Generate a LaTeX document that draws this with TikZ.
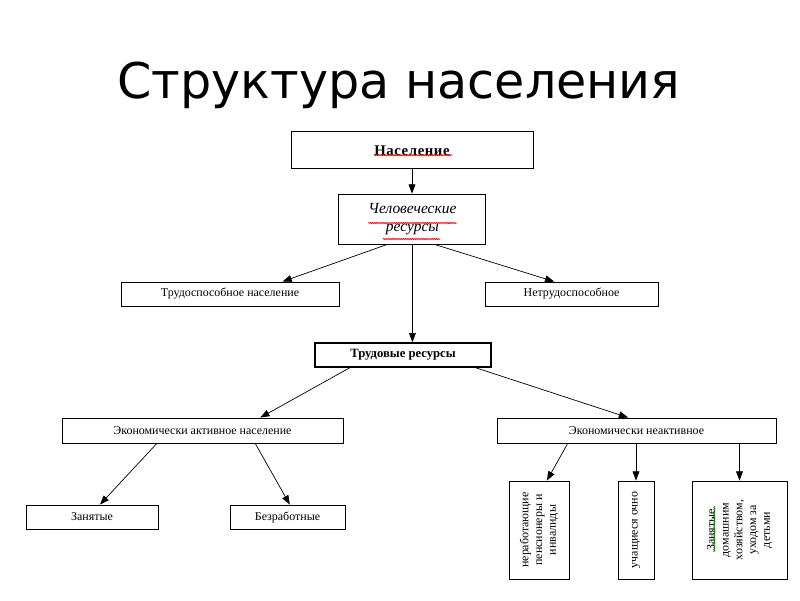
\documentclass[tikz,border=0pt]{standalone}
\usepackage{fontspec}
\setmainfont{Liberation Serif}
\newfontfamily\titlefont{DejaVu Sans}
\usetikzlibrary{arrows.meta,positioning,calc,decorations.pathmorphing}

\begin{document}
\begin{tikzpicture}[
    catbox/.style={rectangle, draw, line width=0.6pt, inner sep=0pt, align=center,
                   font=\fontsize{8.5}{10}\selectfont},
    vertbox/.style={catbox, minimum height=2.45cm, font=\fontsize{8.5}{9.8}\selectfont},
    flow/.style={-{Triangle[length=2.3mm,width=1.7mm]}, line width=0.5pt},
    spell/.style={draw=red, line width=0.4pt, decorate, decoration={snake, amplitude=0.5pt, segment length=1.3pt}}
]
    \useasboundingbox (0,0) rectangle (20,15);

    % Title
    \node[anchor=base, font=\titlefont\fontsize{35}{40}\selectfont] (title) at (9.975, 12.53) {Структура населения};

    % Population and human resources
    \node[catbox, minimum width=6.05cm, minimum height=0.925cm, font=\bfseries\fontsize{10.5}{12}\selectfont\addfontfeature{LetterSpace=4}] (pop) at (10.3, 11.24) {Население};
    \node[catbox, minimum width=3.675cm, minimum height=1.25cm, font=\itshape\fontsize{11}{13}\selectfont] (hum) at (10.31, 9.525) {Человеческие\\ресурсы};

    % Able / unable
    \node[catbox, minimum width=5.45cm, minimum height=0.6cm] (able) at (5.75, 7.65) {Трудоспособное население};
    \node[catbox, minimum width=4.325cm, minimum height=0.6cm] (unable) at (14.29, 7.65) {Нетрудоспособное};

    % Labour resources
    \node[catbox, line width=1.1pt, minimum width=4.4cm, minimum height=0.6cm, font=\bfseries\fontsize{9}{11}\selectfont] (lab) at (10.075, 6.125) {Трудовые ресурсы};

    % Active / inactive
    \node[catbox, minimum width=7.025cm, minimum height=0.625cm] (act) at (5.0625, 4.2375) {Экономически активное население};
    \node[catbox, minimum width=6.975cm, minimum height=0.625cm] (inact) at (15.9125, 4.2375) {Экономически неактивное};

    % Bottom row
    \node[catbox, minimum width=3.3cm, minimum height=0.6cm] (emp) at (2.3, 2.075) {Занятые};
    \node[catbox, minimum width=2.875cm, minimum height=0.6cm] (unemp) at (7.1875, 2.075) {Безработные};
    \node[vertbox, minimum width=1.5cm] (pens) at (13.475, 1.75) {\rotatebox{90}{\parbox{2.3cm}{\centering неработающие\\пенсионеры и\\инвалиды}}};
    \node[vertbox, minimum width=0.9cm] (stud) at (15.9, 1.75) {\rotatebox{90}{\parbox{2.3cm}{\centering учащиеся очно}}};
    \node[vertbox, minimum width=2.375cm] (home) at (18.4875, 1.75) {\rotatebox{90}{\parbox{2.3cm}{\centering Занятые\\домашним\\хозяйством,\\уходом за\\детьми}}};

    % Spelling marks
    \draw[spell] ($(pop.center)+(-0.95,-0.12)$) -- ($(pop.center)+(1.0,-0.12)$);
    \draw[spell] ($(hum.center)+(-1.1,-0.1)$) -- ($(hum.center)+(1.1,-0.1)$);
    \draw[spell] ($(hum.center)+(-0.74,-0.5)$) -- ($(hum.center)+(0.69,-0.5)$);
    \draw[spell, draw=green!55!black] ($(home.center)+(-0.63,-0.55)$) -- ($(home.center)+(-0.63,0.6)$);

    % Arrows
    \draw[flow] (pop.south) -- (pop.south |- hum.north);
    \draw[flow] ($(hum.south west)!0.33!(hum.south east)$) -- ($(able.north west)!0.74!(able.north east)$);
    \draw[flow] ($(hum.south west)!0.65!(hum.south east)$) -- ($(unable.north west)!0.4!(unable.north east)$);
    \draw[flow] (hum.south) -- (hum.south |- lab.north);
    \draw[flow] ($(lab.south west)!0.2!(lab.south east)$) -- ($(act.north west)!0.705!(act.north east)$);
    \draw[flow] ($(lab.south west)!0.91!(lab.south east)$) -- ($(inact.north west)!0.47!(inact.north east)$);
    \draw[flow] ($(act.south west)!0.338!(act.south east)$) -- ($(emp.north west)!0.56!(emp.north east)$);
    \draw[flow] ($(act.south west)!0.687!(act.south east)$) -- ($(unemp.north west)!0.52!(unemp.north east)$);
    \draw[flow] ($(inact.south west)!0.254!(inact.south east)$) -- ($(pens.north west)!0.63!(pens.north east)$);
    \draw[flow] (stud.north |- inact.south) -- (stud.north);
    \draw[flow] (home.north |- inact.south) -- (home.north);
\end{tikzpicture}
\end{document}
